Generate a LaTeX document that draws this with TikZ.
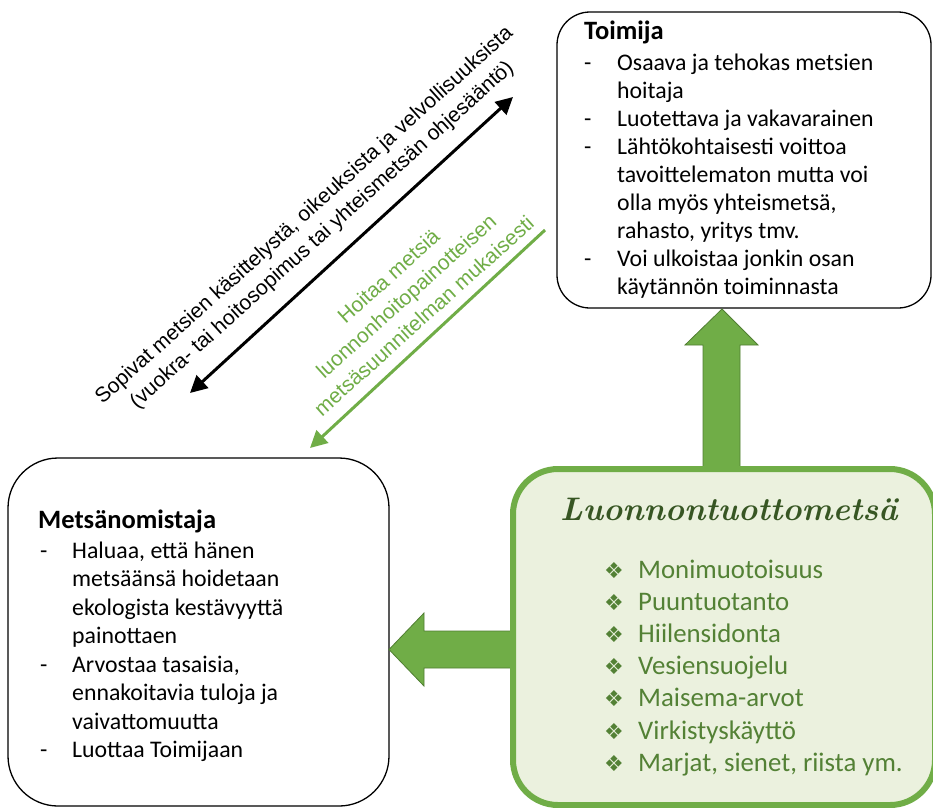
\documentclass[tikz,border=0pt]{standalone}
\usepackage{fontspec}
\newfontfamily\calibri{Carlito}
\newfontfamily\arialf{Liberation Sans}
\newfontfamily\dejavu{DejaVu Sans}
\usetikzlibrary{arrows.meta}
\definecolor{agreen}{HTML}{70AD47}
\definecolor{adark}{HTML}{507E32}
\definecolor{gfill}{HTML}{EBF1DE}
\definecolor{gtext}{HTML}{538135}
\definecolor{gtitle}{HTML}{375623}
\tikzset{mytip/.tip={Triangle[length=17pt,width=17pt]}}
\begin{document}
\begin{tikzpicture}[x=1pt,y=-1pt,
  box/.style={draw=black, line width=1.3pt, rounded corners=#1, inner sep=0pt},
  body/.style={font=\calibri\fontsize{23.8}{28}\selectfont, anchor=base west, inner sep=0pt},
  headtxt/.style={font=\calibri\bfseries\fontsize{26.5}{30}\selectfont, anchor=base west, inner sep=0pt},
  listtxt/.style={font=\calibri\fontsize{26.8}{32}\selectfont, text=gtext, anchor=base west, inner sep=0pt},
  bul/.style={font=\dejavu\fontsize{22}{26}\selectfont, text=gtext, anchor=base west, inner sep=0pt},
  blockarrow/.style={fill=agreen, draw=adark, line width=0.8pt},
  rottxt/.style={font=\arialf\fontsize{21}{26.5}\selectfont, align=center, rotate=42, inner sep=0pt}
]
\useasboundingbox (0,0) rectangle (933,807);

% boxes
\node[box=33, minimum width=374pt, minimum height=296pt] (toimija) at (744,160) {};
\node[box=50, minimum width=381pt, minimum height=348pt] (omistaja) at (198.5,632) {};

% block arrows
\draw[blockarrow] (703,469) -- (703,345) -- (685,345) -- (722,309) -- (758,345) -- (740,345) -- (740,469) -- cycle;
\draw[blockarrow] (514,631) -- (424,631) -- (424,613) -- (389,649.5) -- (424,686) -- (424,668) -- (514,668) -- cycle;

\node[draw=agreen, fill=gfill, line width=6pt, rounded corners=45pt, minimum width=422pt, minimum height=336pt, inner sep=0pt] (luonto) at (724,637) {};

% Toimija text
\node[headtxt] (toimijah) at (584,39) {Toimija};
\foreach \t [count=\i] in {{Osaava ja tehokas metsien},{hoitaja},{Luotettava ja vakavarainen},{Lähtökohtaisesti voittoa},{tavoittelematon mutta voi},{olla myös yhteismetsä,},{rahasto, yritys tmv.},{Voi ulkoistaa jonkin osan},{käytännön toiminnasta}}
  \node[body] (tl\i) at (617,{70+28*(\i-1)}) {\t};
\foreach \i in {1,3,4,8}
  \node[body] (td\i) at (584,{70+28*(\i-1)}) {-};

% Metsanomistaja text
\node[headtxt] (omistajah) at (38,528) {Metsänomistaja};
\foreach \t [count=\i] in {{Haluaa, että hänen},{metsäänsä hoidetaan},{ekologista kestävyyttä},{painottaen},{Arvostaa tasaisia,},{ennakoitavia tuloja ja},{vaivattomuutta},{Luottaa Toimijaan}}
  \node[body] (ol\i) at (72,{558+28.5*(\i-1)}) {\t};
\foreach \i in {1,5,8}
  \node[body] (od\i) at (40,{558+28.5*(\i-1)}) {-};

% Luonnontuottometsa text
\node[anchor=base west, inner sep=0pt, font=\bfseries\itshape\fontsize{32.6}{38}\selectfont, text=gtitle] (luontoh) at (560,520) {Luonnontuottometsä};
\foreach \t [count=\i] in {{Monimuotoisuus},{Puuntuotanto},{Hiilensidonta},{Vesiensuojelu},{Maisema-arvot},{Virkistyskäyttö},{Marjat, sienet, riista ym.}}
{
  \node[listtxt] (ll\i) at (638,{578+32.2*(\i-1)}) {\t};
  \node[bul] (lb\i) at (604,{578+32.2*(\i-1)}) {❖};
}

% diagonal arrows
\coordinate (ba1) at (190,393);
\coordinate (ba2) at (513,97);
\draw[line width=3pt, mytip-mytip] (ba1) -- (ba2);
\coordinate (ga1) at (545,230);
\coordinate (ga2) at (310,448);
\draw[agreen, line width=3pt, -mytip] (ga1) -- (ga2);

\node[rottxt] (sopivat) at (313.5,225.5) {Sopivat metsien käsittelystä, oikeuksista ja velvollisuuksista\\(vuokra- tai hoitosopimus tai yhteismetsän ohjesääntö)};
\node[rottxt, text=agreen] (hoitaa) at (406,296) {Hoitaa metsiä\\luonnonhoitopainotteisen\\metsäsuunnitelman mukaisesti};
\end{tikzpicture}
\end{document}
